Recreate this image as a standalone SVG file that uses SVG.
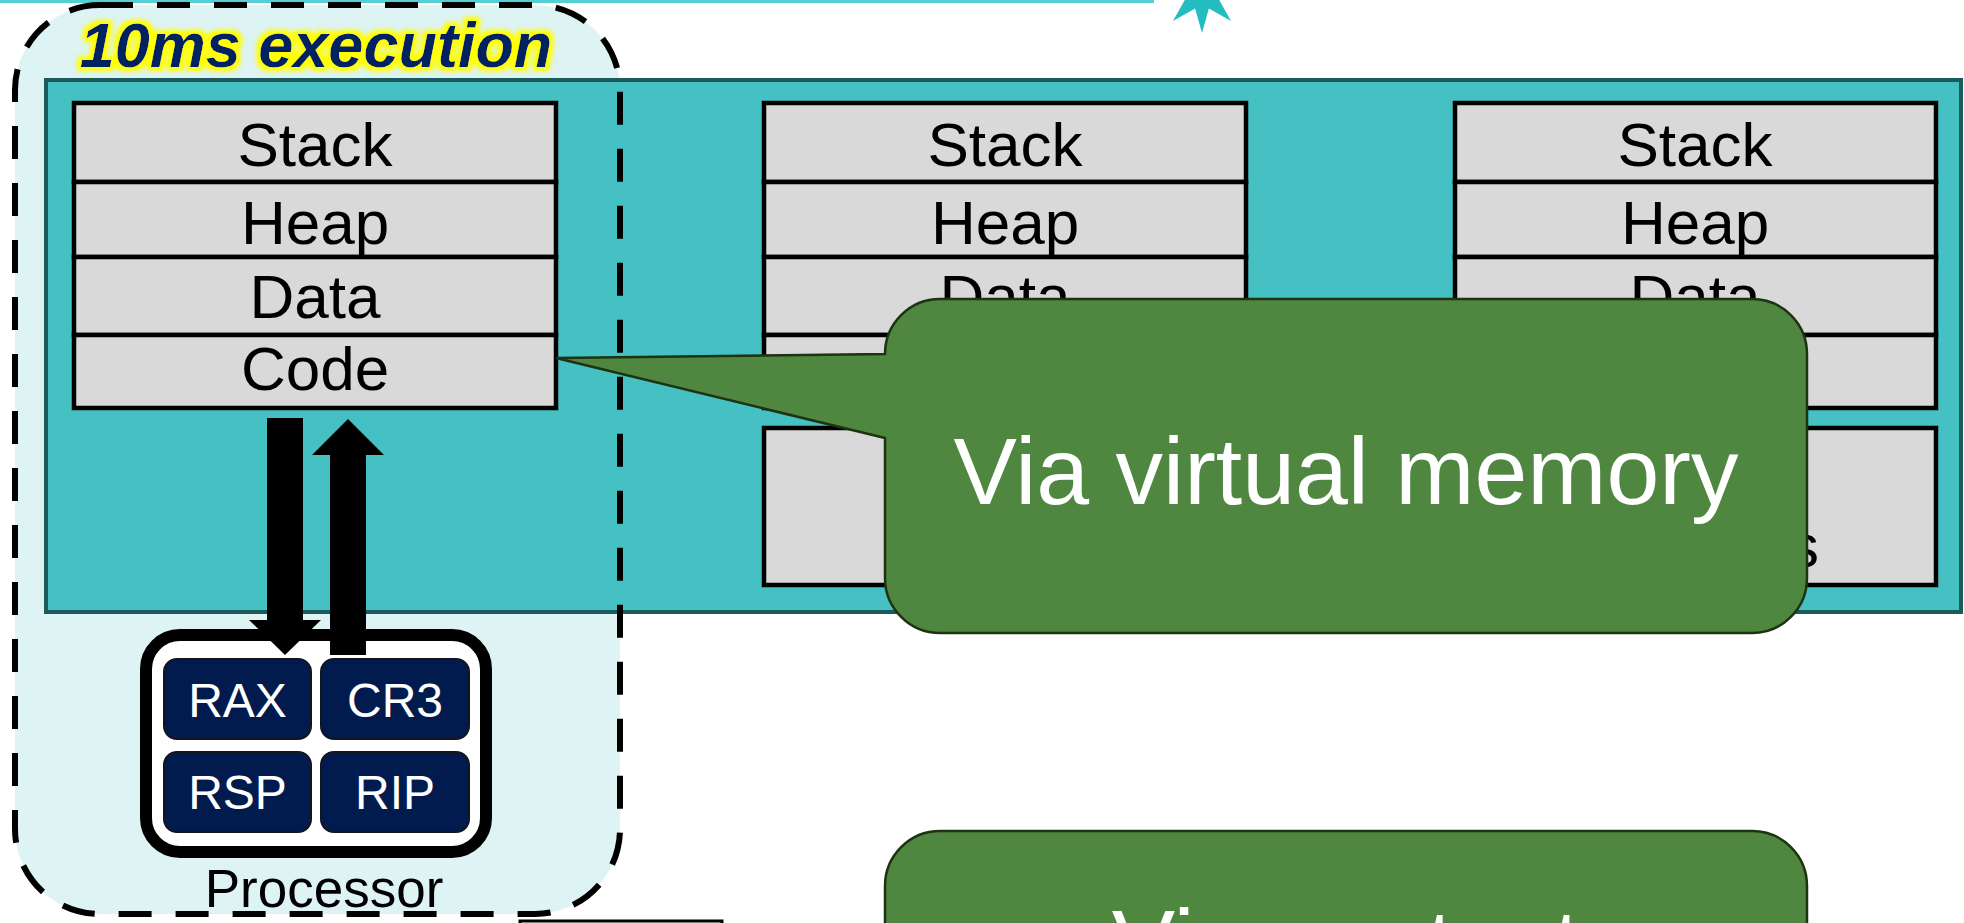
<svg xmlns="http://www.w3.org/2000/svg" width="1964" height="923" viewBox="0 0 1964 923">
  <defs>
    <style>
      .cell { fill: #D9D9D9; stroke: #000; stroke-width: 4.5; }
      .cell-text { font-family: "Liberation Sans", Arial, sans-serif; font-size: 62px; fill: #000; text-anchor: middle; }
      .reg { fill: #021B4F; stroke: #14141E; stroke-width: 2; }
      .reg-text { font-family: "Liberation Sans", Arial, sans-serif; font-size: 48px; fill: #FFFFFF; text-anchor: middle; }
      .callout { fill: #4F8640; stroke: #1D3311; stroke-width: 2.5; }
      .callout-text { font-family: "Liberation Sans", Arial, sans-serif; font-size: 95px; fill: #FFFFFF; text-anchor: middle; }
      .arrow { fill: #000; }
    </style>
    <filter id="glow" x="-10%" y="-40%" width="120%" height="180%">
      <feMorphology in="SourceAlpha" operator="dilate" radius="4" result="fat"/>
      <feGaussianBlur in="fat" stdDeviation="2" result="soft"/>
      <feFlood flood-color="#FFFF00"/>
      <feComposite in2="soft" operator="in" result="halo"/>
      <feMerge>
        <feMergeNode in="halo"/>
        <feMergeNode in="SourceGraphic"/>
      </feMerge>
    </filter>
  </defs>

  <rect x="0" y="0" width="1964" height="923" fill="#FFFFFF"/>

  <!-- timeline rule and marker along the top -->
  <g id="timeline">
    <rect x="0" y="0" width="1154" height="3" fill="#55CFD2"/>
    <polygon fill="#23BDC1" points="1202,-49 1208.9,-24.6 1231,-37 1218.6,-14.9 1243,-8 1218.6,-1.1 1231,21 1208.9,8.6 1202,33 1195.1,8.6 1173,21 1185.4,-1.1 1161,-8 1185.4,-14.9 1173,-37 1195.1,-24.6"/>
  </g>

  <!-- execution slice background -->
  <rect id="slice-fill" x="15" y="5" width="605" height="909" rx="85" ry="85" fill="#DDF3F4"/>

  <!-- physical memory -->
  <g id="memory">
    <rect x="46" y="80" width="1915" height="532" fill="#45C1C4" stroke="#1C5B5C" stroke-width="4"/>
  </g>

  <!-- address space of the running process -->
  <g id="process-1">
    <rect class="cell" x="74" y="103" width="482" height="79"/>
    <rect class="cell" x="74" y="182" width="482" height="75"/>
    <rect class="cell" x="74" y="257" width="482" height="78"/>
    <rect class="cell" x="74" y="335" width="482" height="73"/>
    <text class="cell-text" x="315" y="166">Stack</text>
    <text class="cell-text" x="315" y="244">Heap</text>
    <text class="cell-text" x="315" y="318">Data</text>
    <text class="cell-text" x="315" y="390">Code</text>
  </g>

  <g id="process-2">
    <rect class="cell" x="764" y="103" width="482" height="79"/>
    <rect class="cell" x="764" y="182" width="482" height="75"/>
    <rect class="cell" x="764" y="257" width="482" height="78"/>
    <rect class="cell" x="764" y="335" width="482" height="73"/>
    <rect class="cell" x="764" y="428" width="482" height="157"/>
    <text class="cell-text" x="1005" y="166">Stack</text>
    <text class="cell-text" x="1005" y="244">Heap</text>
    <text class="cell-text" x="1005" y="318">Data</text>
  </g>

  <g id="process-3">
    <rect class="cell" x="1455" y="103" width="481" height="79"/>
    <rect class="cell" x="1455" y="182" width="481" height="75"/>
    <rect class="cell" x="1455" y="257" width="481" height="78"/>
    <rect class="cell" x="1455" y="335" width="481" height="73"/>
    <rect class="cell" x="1455" y="428" width="481" height="157"/>
    <text class="cell-text" x="1695" y="166">Stack</text>
    <text class="cell-text" x="1695" y="244">Heap</text>
    <text class="cell-text" x="1695" y="318">Data</text>
    <text class="cell-text" x="1819" y="567" style="text-anchor:end">s</text>
  </g>

  <!-- execution slice outline -->
  <g id="slice">
    <rect x="15" y="5" width="605" height="909" rx="85" ry="85" fill="none" stroke="#000" stroke-width="6" stroke-dasharray="33 24"/>
  </g>

  <!-- processor with its registers -->
  <g id="processor">
    <rect x="146" y="635" width="340" height="217" rx="34" ry="34" fill="#FFFFFF" stroke="#000" stroke-width="12"/>
    <rect class="reg" x="164" y="659" width="147" height="80" rx="13" ry="13"/>
    <rect class="reg" x="321" y="659" width="148" height="80" rx="13" ry="13"/>
    <rect class="reg" x="164" y="752" width="147" height="80" rx="13" ry="13"/>
    <rect class="reg" x="321" y="752" width="148" height="80" rx="13" ry="13"/>
    <text class="reg-text" x="237.5" y="717">RAX</text>
    <text class="reg-text" x="395" y="717">CR3</text>
    <text class="reg-text" x="237.5" y="809">RSP</text>
    <text class="reg-text" x="395" y="809">RIP</text>
    <text x="324" y="907" font-family="Liberation Sans, Arial, sans-serif" font-size="53" text-anchor="middle" fill="#000">Processor</text>
  </g>

  <!-- load / store traffic between memory and processor -->
  <g id="connectors">
    <polygon class="arrow" points="267,418 303,418 303,620 321,620 285,655 249,620 267,620"/>
    <polygon class="arrow" points="348,419 384,455 366,455 366,655 330,655 330,455 312,455"/>
  </g>

  <g id="slice-label">
    <text x="316" y="67" font-family="Liberation Sans, Arial, sans-serif" font-size="63" font-weight="bold" font-style="italic" text-anchor="middle" fill="#002060" filter="url(#glow)">10ms execution</text>
  </g>

  <!-- annotations -->
  <g id="callout-vm">
    <path class="callout" d="M940,299 H1752 A55,55 0 0 1 1807,354 V578 A55,55 0 0 1 1752,633 H940 A55,55 0 0 1 885,578 V438 L556,358 L885,354 A55,55 0 0 1 940,299 Z"/>
    <text class="callout-text" x="1346" y="504">Via virtual memory</text>
  </g>

  <g id="callout-ctx">
    <path class="callout" d="M940,831 H1752 A55,55 0 0 1 1807,886 V960 H885 V886 A55,55 0 0 1 940,831 Z"/>
    <text class="callout-text" x="1346" y="976">Via context</text>
  </g>

  <g id="edge-box">
    <rect x="520" y="921" width="202" height="30" fill="#FFFFFF" stroke="#000" stroke-width="3"/>
  </g>
</svg>
